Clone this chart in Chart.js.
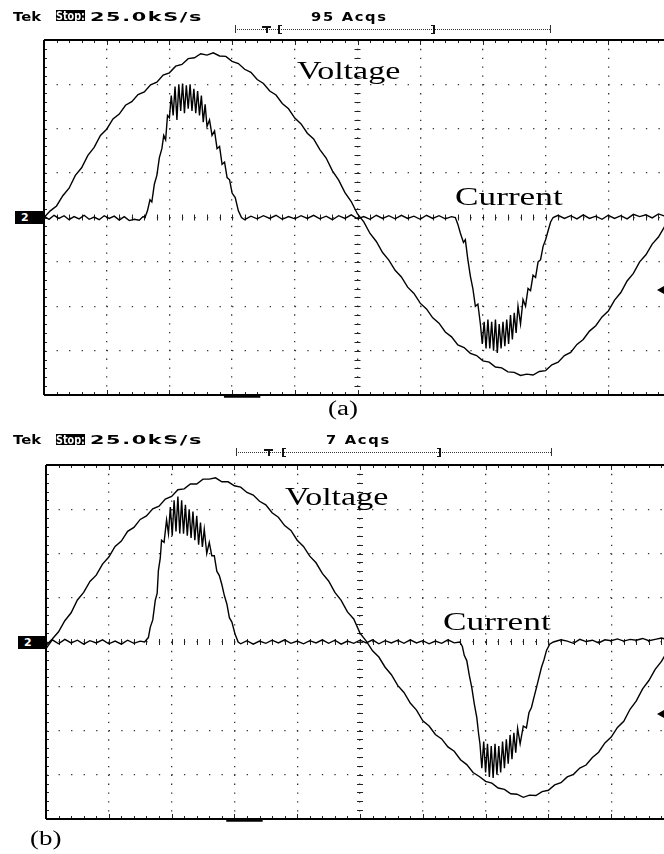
<!DOCTYPE html>
<html><head><meta charset="utf-8">
<script src="https://cdn.jsdelivr.net/npm/chart.js@4.4.1/dist/chart.umd.min.js"></script>
<style>
html,body{margin:0;padding:0;background:#fff;width:664px;height:854px;overflow:hidden;position:relative;}
canvas{position:absolute;left:0;}
.t{position:absolute;white-space:nowrap;transform-origin:0 0;color:#000;}
.hdr{font-family:"DejaVu Sans";font-weight:bold;font-size:13px;line-height:13px;}
.lbl{font-family:"Liberation Serif";font-size:25px;line-height:25px;}
.cap{font-family:"Liberation Serif";font-size:20px;line-height:20px;}
.box{position:absolute;background:#000;font-family:"DejaVu Sans";font-weight:bold;overflow:hidden;}
.box .w{position:absolute;white-space:nowrap;transform-origin:0 0;color:#fff;}
.dl{position:absolute;height:0;border-top:1px dotted #333;}
.vl{position:absolute;width:0;border-left:1px solid #333;}
.bar{position:absolute;background:#111;}
.arrow{position:absolute;width:0;height:0;border-top:4px solid transparent;border-bottom:4px solid transparent;border-right:7px solid #000;}
</style>
</head><body>
<canvas id="cA" width="680" height="420" style="top:0"></canvas>
<canvas id="cB" width="680" height="434" style="top:420px"></canvas>

<!-- panel (a) header -->
<div class="t hdr" style="left:13px;top:9.5px;transform:scaleX(1.14)">Tek</div>
<div class="box" style="left:56px;top:10px;width:29px;height:11px;"><span class="w" style="left:0px;top:-1px;font-size:13px;line-height:13px;transform:scaleX(0.74)">Stop:</span></div>
<div class="t hdr" style="left:90px;top:9.5px;letter-spacing:1px;transform:scaleX(1.6)">25.0kS/s</div>
<div class="t hdr" style="left:311px;top:9.5px;letter-spacing:1.5px;transform:scaleX(1.13)">95 Acqs</div>
<div class="dl" style="left:235px;top:29px;width:315px"></div>
<div class="vl" style="left:235px;top:25px;height:8px"></div>
<div class="vl" style="left:550px;top:25px;height:8px"></div>
<div class="bar" style="left:262px;top:26px;width:9px;height:1.5px"></div>
<div class="bar" style="left:266px;top:26px;width:1.5px;height:7px"></div>
<div class="bar" style="left:278px;top:25px;width:2px;height:9px"></div>
<div class="bar" style="left:278px;top:25px;width:4px;height:1px"></div>
<div class="bar" style="left:278px;top:33px;width:4px;height:1px"></div>
<div class="bar" style="left:433px;top:25px;width:2px;height:9px"></div>
<div class="bar" style="left:431px;top:25px;width:4px;height:1px"></div>
<div class="bar" style="left:431px;top:33px;width:4px;height:1px"></div>
<div class="box" style="left:15px;top:211px;width:28px;height:13px;"><span class="w" style="left:6px;top:0px;font-size:11px;line-height:13px">2</span></div>
<div class="arrow" style="left:657px;top:286px"></div>
<div class="t lbl" style="left:297px;top:58px;transform:scaleX(1.36)">Voltage</div>
<div class="t lbl" style="left:455px;top:184px;transform:scaleX(1.41)">Current</div>
<div class="t cap" style="left:328px;top:398px;transform:scaleX(1.35)">(a)</div>

<!-- panel (b) header -->
<div class="t hdr" style="left:13px;top:433px;transform:scaleX(1.14)">Tek</div>
<div class="box" style="left:56px;top:433.5px;width:29px;height:11px;"><span class="w" style="left:0px;top:-1px;font-size:13px;line-height:13px;transform:scaleX(0.74)">Stop:</span></div>
<div class="t hdr" style="left:90px;top:433px;letter-spacing:1px;transform:scaleX(1.6)">25.0kS/s</div>
<div class="t hdr" style="left:326px;top:433px;letter-spacing:1.5px;transform:scaleX(1.13)">7 Acqs</div>
<div class="dl" style="left:236px;top:452px;width:315px"></div>
<div class="vl" style="left:236px;top:448px;height:8px"></div>
<div class="vl" style="left:551px;top:448px;height:8px"></div>
<div class="bar" style="left:264px;top:449px;width:9px;height:1.5px"></div>
<div class="bar" style="left:268px;top:449px;width:1.5px;height:7px"></div>
<div class="bar" style="left:282px;top:448px;width:2px;height:9px"></div>
<div class="bar" style="left:282px;top:448px;width:4px;height:1px"></div>
<div class="bar" style="left:282px;top:456px;width:4px;height:1px"></div>
<div class="bar" style="left:439px;top:448px;width:2px;height:9px"></div>
<div class="bar" style="left:437px;top:448px;width:4px;height:1px"></div>
<div class="bar" style="left:437px;top:456px;width:4px;height:1px"></div>
<div class="box" style="left:18px;top:636px;width:27px;height:13px;"><span class="w" style="left:6px;top:0px;font-size:11px;line-height:13px">2</span></div>
<div class="arrow" style="left:657px;top:710px"></div>
<div class="t lbl" style="left:285px;top:483.5px;transform:scaleX(1.36)">Voltage</div>
<div class="t lbl" style="left:443px;top:608.5px;transform:scaleX(1.41)">Current</div>
<div class="t cap" style="left:30px;top:828px;transform:scaleX(1.35)">(b)</div>

<script>
// ---- data (divisions on the oscilloscope screen) ----
const xDivisions = [0,1,2,3,4,5,6,7,8,9,10];
const yDivisions = [-4,-3,-2,-1,0,1,2,3,4];

const voltTime = [0.0,0.1,0.2,0.3,0.4,0.5,0.6,0.7,0.8,0.9,
  1.0,1.1,1.2,1.3,1.4,1.5,1.6,1.7,1.8,1.9,
  2.0,2.1,2.2,2.3,2.4,2.5,2.6,2.7,2.8,2.9,
  3.0,3.1,3.2,3.3,3.4,3.5,3.6,3.7,3.8,3.9,
  4.0,4.1,4.2,4.3,4.4,4.5,4.6,4.7,4.8,4.9,
  5.0,5.1,5.2,5.3,5.4,5.5,5.6,5.7,5.8,5.9,
  6.0,6.1,6.2,6.3,6.4,6.5,6.6,6.7,6.8,6.9,
  7.0,7.1,7.2,7.3,7.4,7.5,7.6,7.7,7.8,7.9,
  8.0,8.1,8.2,8.3,8.4,8.5,8.6,8.7,8.8,8.9,
  9.0,9.1,9.2,9.3,9.4,9.5,9.6,9.7,9.8,9.9];

const voltA = [0.00,0.15,0.26,0.49,0.66,0.95,1.12,1.40,1.58,1.85,
  1.99,2.22,2.33,2.53,2.61,2.77,2.83,2.99,3.05,3.21,
  3.26,3.41,3.45,3.58,3.60,3.69,3.66,3.71,3.64,3.63,
  3.52,3.47,3.34,3.27,3.11,3.02,2.85,2.76,2.57,2.45,
  2.24,2.11,1.90,1.77,1.53,1.34,1.05,0.84,0.56,0.36,
  0.08,-0.10,-0.36,-0.54,-0.79,-0.96,-1.19,-1.34,-1.57,-1.71,
  -1.93,-2.06,-2.26,-2.38,-2.58,-2.69,-2.87,-2.93,-3.06,-3.11,
  -3.23,-3.26,-3.37,-3.39,-3.48,-3.49,-3.56,-3.53,-3.55,-3.47,
  -3.45,-3.32,-3.26,-3.11,-3.04,-2.86,-2.75,-2.56,-2.44,-2.24,
  -2.11,-1.86,-1.69,-1.43,-1.26,-1.00,-0.84,-0.60,-0.44,-0.20];

const voltB = [-0.08,0.07,0.23,0.48,0.66,0.95,1.12,1.37,1.51,1.76,
  1.92,2.16,2.28,2.50,2.59,2.77,2.85,3.01,3.07,3.23,
  3.29,3.44,3.46,3.57,3.57,3.68,3.68,3.71,3.62,3.62,
  3.53,3.50,3.38,3.32,3.18,3.10,2.92,2.82,2.63,2.52,
  2.30,2.16,1.94,1.79,1.55,1.38,1.12,0.94,0.68,0.52,
  0.20,0.02,-0.20,-0.34,-0.57,-0.74,-0.98,-1.14,-1.38,-1.54,
  -1.78,-1.90,-2.09,-2.19,-2.37,-2.47,-2.66,-2.77,-2.95,-3.04,
  -3.15,-3.19,-3.30,-3.33,-3.43,-3.44,-3.51,-3.46,-3.47,-3.38,
  -3.35,-3.23,-3.18,-3.05,-2.99,-2.85,-2.78,-2.61,-2.49,-2.28,
  -2.15,-1.93,-1.79,-1.52,-1.33,-1.06,-0.87,-0.62,-0.44,-0.20];

// current traces as [time, value] readings
const currentA = [
  [0.00,0.03],[0.08,-0.04],[0.16,0.05],[0.24,-0.02],[0.32,0.04],[0.40,-0.05],[0.48,0.02],[0.56,-0.03],
  [0.64,0.05],[0.72,-0.04],[0.80,0.01],[0.88,-0.05],[0.96,0.04],[1.04,-0.02],[1.12,0.03],[1.20,-0.06],
  [1.28,0.02],[1.36,-0.07],[1.44,-0.04],[1.52,-0.06],[1.58,0.02],
  [1.61,0.00],[1.65,0.15],[1.69,0.40],[1.72,0.35],[1.76,0.75],[1.80,0.95],[1.84,1.35],[1.88,1.55],
  [1.91,1.85],[1.94,1.75],[1.97,2.30],[2.00,2.25],[2.03,2.75],
  [2.06,2.30],[2.09,2.95],[2.12,2.20],[2.15,3.00],[2.18,2.40],[2.21,3.02],[2.24,2.35],[2.27,2.98],
  [2.30,2.45],[2.33,3.00],[2.36,2.40],[2.39,2.90],[2.42,2.35],[2.45,2.85],[2.48,2.30],[2.51,2.75],
  [2.54,2.15],[2.57,2.55],[2.60,2.05],[2.64,2.20],[2.68,1.85],[2.72,1.95],[2.76,1.55],[2.80,1.60],
  [2.84,1.20],[2.88,1.25],[2.92,0.90],[2.96,0.85],[3.00,0.55],[3.05,0.45],[3.10,0.15],[3.15,0.00],
  [3.2,-0.05],[3.3,0.03],[3.4,-0.03],[3.5,0.04],[3.6,-0.02],[3.7,0.05],[3.8,-0.04],[3.9,0.02],
  [4.0,-0.03],[4.1,0.04],[4.2,-0.02],[4.3,0.05],[4.4,-0.03],[4.5,0.03],[4.6,-0.05],[4.7,0.04],
  [4.8,-0.02],[4.9,0.06],[5.0,-0.03],[5.1,0.02],[5.2,-0.04],[5.3,0.05],[5.4,-0.02],[5.5,0.04],
  [5.6,-0.03],[5.7,0.05],[5.8,-0.02],[5.9,0.03],[6.0,-0.04],[6.1,0.05],[6.2,-0.02],[6.3,0.04],
  [6.4,-0.03],[6.5,0.02],
  [6.56,0.00],[6.60,-0.15],[6.64,-0.35],[6.69,-0.56],[6.72,-0.50],[6.76,-0.95],[6.80,-1.32],[6.84,-1.60],
  [6.88,-2.00],[6.92,-1.95],[6.96,-2.40],
  [6.99,-2.85],[7.02,-2.35],[7.05,-2.95],[7.08,-2.30],[7.11,-2.95],[7.14,-2.35],[7.17,-3.00],[7.20,-2.30],
  [7.23,-3.05],[7.26,-2.40],[7.29,-2.95],[7.32,-2.35],[7.35,-2.90],[7.38,-2.30],[7.41,-2.85],[7.44,-2.20],
  [7.47,-2.75],[7.50,-2.15],[7.53,-2.60],[7.56,-2.00],[7.60,-2.40],[7.64,-1.85],[7.68,-2.00],[7.72,-1.60],
  [7.76,-1.65],[7.80,-1.30],[7.84,-1.35],[7.88,-1.00],[7.92,-0.95],[7.96,-0.65],[8.00,-0.50],[8.04,-0.30],
  [8.08,-0.10],[8.12,0.00],
  [8.2,0.05],[8.3,-0.02],[8.4,0.04],[8.5,-0.03],[8.6,0.06],[8.7,-0.02],[8.8,0.03],[8.9,-0.04],
  [9.0,0.05],[9.1,-0.02],[9.2,0.04],[9.3,-0.03],[9.4,0.07],[9.5,0.02],[9.6,0.06],[9.7,-0.01],
  [9.8,0.08],[9.9,0.03]
];

const currentB = [
  [0.0,-0.15],[0.1,0.05],[0.2,-0.04],[0.3,0.06],[0.4,-0.02],[0.5,0.04],[0.6,-0.05],[0.7,0.03],
  [0.8,-0.02],[0.9,0.05],[1.0,-0.04],[1.1,0.02],[1.2,-0.05],[1.3,0.04],[1.4,-0.03],[1.5,0.02],
  [1.57,0.00],[1.60,0.05],[1.63,0.10],[1.66,0.33],[1.70,0.50],[1.74,0.94],[1.77,1.10],[1.79,1.62],
  [1.82,1.90],[1.84,2.30],[1.88,2.25],[1.92,2.76],
  [1.95,2.45],[1.98,3.05],[2.01,2.40],[2.04,3.20],[2.07,2.50],[2.10,3.29],[2.13,2.45],[2.16,3.20],
  [2.19,2.45],[2.22,3.10],[2.25,2.40],[2.28,3.00],[2.31,2.35],[2.34,2.95],[2.37,2.30],[2.40,2.85],
  [2.43,2.20],[2.46,2.70],[2.49,2.15],[2.52,2.55],[2.56,2.00],[2.60,2.25],[2.64,1.95],[2.68,1.95],
  [2.72,1.60],[2.76,1.50],[2.80,1.30],[2.84,1.05],[2.88,0.86],[2.92,0.55],[2.96,0.45],[3.01,0.18],
  [3.06,0.00],
  [3.1,-0.04],[3.2,0.03],[3.3,-0.05],[3.4,0.02],[3.5,-0.03],[3.6,0.04],[3.7,-0.02],[3.8,0.05],
  [3.9,-0.03],[4.0,0.02],[4.1,-0.04],[4.2,0.03],[4.3,-0.02],[4.4,0.05],[4.5,-0.03],[4.6,0.04],
  [4.7,-0.05],[4.8,0.02],[4.9,-0.03],[5.0,0.04],[5.1,-0.02],[5.2,0.05],[5.3,-0.04],[5.4,0.03],
  [5.5,-0.02],[5.6,0.04],[5.7,-0.03],[5.8,0.05],[5.9,-0.02],[6.0,0.03],[6.1,-0.04],[6.2,0.02],
  [6.3,-0.03],[6.4,0.05],[6.5,-0.02],
  [6.59,0.00],[6.63,-0.10],[6.66,-0.30],[6.70,-0.42],[6.74,-0.75],[6.78,-1.03],[6.82,-1.40],[6.86,-1.71],
  [6.89,-2.09],[6.91,-2.30],
  [6.94,-2.85],[6.97,-2.25],[7.00,-2.95],[7.03,-2.30],[7.06,-3.05],[7.09,-2.35],[7.12,-3.07],[7.15,-2.30],
  [7.18,-3.00],[7.21,-2.35],[7.24,-2.95],[7.27,-2.25],[7.30,-2.85],[7.33,-2.20],[7.36,-2.75],[7.39,-2.10],
  [7.42,-2.65],[7.45,-2.05],[7.48,-2.50],[7.51,-1.95],[7.55,-2.30],[7.60,-1.90],[7.65,-1.94],[7.69,-1.60],
  [7.73,-1.48],[7.77,-1.25],[7.81,-1.03],[7.85,-0.80],[7.89,-0.57],[7.93,-0.40],[7.97,-0.19],[8.02,-0.05],
  [8.08,0.00],
  [8.2,0.05],[8.3,0.02],[8.4,-0.03],[8.5,0.06],[8.6,0.01],[8.7,0.04],[8.8,-0.02],[8.9,0.05],
  [9.0,0.03],[9.1,0.07],[9.2,0.02],[9.3,0.06],[9.4,0.04],[9.5,0.08],[9.6,0.03],[9.7,0.06],
  [9.8,0.09],[9.9,0.05]
];

// ---- drawing ----
const toPts = (t, v) => t.map((x, i) => ({x: x, y: v[i]}));
const pairPts = arr => arr.map(p => ({x: p[0], y: p[1]}));

const screenPlugin = {
  id: 'screen',
  beforeDatasetsDraw(chart) {
    const {ctx, chartArea: a, scales: {x, y}} = chart;
    ctx.save();
    ctx.strokeStyle = '#222';
    ctx.lineWidth = 1;
    const x0 = x.getPixelForValue(5), y0 = y.getPixelForValue(0);
    for (let k = 0; k <= 50; k++) {
      const px = Math.round(x.getPixelForValue(k * 0.2)) + 0.5;
      const len = (k % 5 === 0) ? 5 : 3;
      ctx.beginPath();
      ctx.moveTo(px, a.top); ctx.lineTo(px, a.top + len);
      ctx.moveTo(px, a.bottom); ctx.lineTo(px, a.bottom - len);
      ctx.moveTo(px, y0 - 3); ctx.lineTo(px, y0 + 3);
      ctx.stroke();
    }
    for (let k = 0; k <= 40; k++) {
      const py = Math.round(y.getPixelForValue(-4 + k * 0.2)) + 0.5;
      ctx.beginPath();
      ctx.moveTo(a.left, py); ctx.lineTo(a.left + 3, py);
      ctx.moveTo(x0 - 3, py); ctx.lineTo(x0 + 3, py);
      ctx.stroke();
    }
    // frame: left, top, bottom
    ctx.strokeStyle = '#000';
    ctx.lineWidth = 2;
    ctx.beginPath();
    ctx.moveTo(a.left, a.top); ctx.lineTo(a.right, a.top);
    ctx.moveTo(a.left, a.top); ctx.lineTo(a.left, a.bottom);
    ctx.moveTo(a.left, a.bottom); ctx.lineTo(a.right, a.bottom);
    ctx.stroke();
    ctx.lineWidth = 3.5;
    ctx.beginPath();
    ctx.moveTo(x.getPixelForValue(2.87), a.bottom + 1); ctx.lineTo(x.getPixelForValue(3.45), a.bottom + 1);
    ctx.stroke();
    ctx.restore();
  }
};

function makeChart(id, volt, curr, pad) {
  const gridX = {color: '#333', lineWidth: 1.3, drawTicks: false};
  const gridY = {color: '#333', lineWidth: 1.3, drawTicks: false};
  return new Chart(document.getElementById(id), {
    type: 'line',
    data: {datasets: [
      {label: 'Voltage', data: toPts(voltTime, volt), borderColor: '#000', borderWidth: 1.4, pointRadius: 0, tension: 0, fill: false},
      {label: 'Current', data: pairPts(curr), borderColor: '#000', borderWidth: 1.4, pointRadius: 0, tension: 0, fill: false}
    ]},
    options: {
      responsive: false, animation: false, devicePixelRatio: 1,
      layout: {padding: pad},
      plugins: {legend: {display: false}, tooltip: {enabled: false}},
      scales: {
        x: {type: 'linear', min: xDivisions[0], max: xDivisions[xDivisions.length - 1],
            afterBuildTicks: s => { s.ticks = xDivisions.map(v => ({value: v})); },
            ticks: {display: false}, grid: gridX, border: {display: false, dash: [1.3, 7.55]}},
        y: {type: 'linear', min: yDivisions[0], max: yDivisions[yDivisions.length - 1],
            afterBuildTicks: s => { s.ticks = yDivisions.map(v => ({value: v})); },
            ticks: {display: false}, grid: gridY, border: {display: false, dash: [1.3, 11.24]}}
      }
    },
    plugins: [screenPlugin]
  });
}

makeChart('cA', voltA, currentA, {left: 44, top: 40, right: 9, bottom: 25});
makeChart('cB', voltB, currentB, {left: 46, top: 45, right: 6, bottom: 35});
</script>
</body></html>
